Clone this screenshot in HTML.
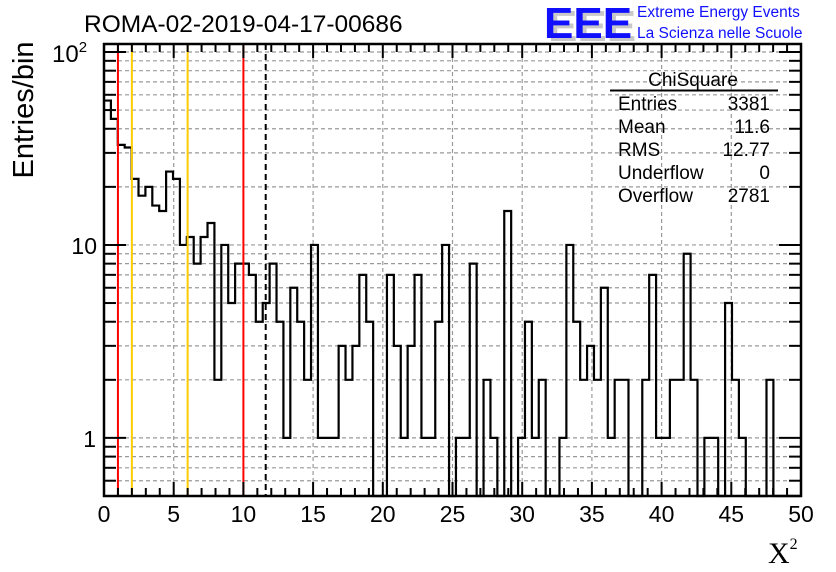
<!DOCTYPE html>
<html><head><meta charset="utf-8"><style>
html,body{margin:0;padding:0;background:#fff;width:836px;height:572px;overflow:hidden}
svg{display:block;font-family:"Liberation Sans",sans-serif}
</style></head><body>
<svg id="chart" width="836" height="572" viewBox="0 0 836 572">
<rect x="0" y="0" width="836" height="572" fill="#fff"/>
<g id="grid"></g>
<g id="marks"></g>
<g id="refs"></g>
<g id="axes"></g>
<text x="84" y="32" font-size="24.5" fill="#000">ROMA-02-2019-04-17-00686</text>
<text transform="translate(33,110) rotate(-90)" text-anchor="middle" font-size="29" fill="#000">Entries/bin</text>
<text x="768" y="563" font-size="30" font-family="Liberation Serif,serif" fill="#000">X<tspan font-size="16" dy="-14">2</tspan></text>
<g>
<text x="548" y="41" font-size="44" font-weight="bold" fill="#c8c8c8">EEE</text>
<text x="544" y="38" font-size="44" font-weight="bold" fill="#1010ff">EEE</text>
<text x="637" y="17" font-size="15.5" fill="#1010ff">Extreme Energy Events</text>
<text x="637" y="38" font-size="15.5" fill="#1010ff">La Scienza nelle Scuole</text>
</g>
<g font-size="19" fill="#000">
<text x="693" y="86" text-anchor="middle">ChiSquare</text>
<line x1="610" y1="90.5" x2="778" y2="90.5" stroke="#000" stroke-width="2"/>
<text x="618" y="110">Entries</text><text x="770" y="110" text-anchor="end">3381</text>
<text x="618" y="133">Mean</text><text x="770" y="133" text-anchor="end">11.6</text>
<text x="618" y="156">RMS</text><text x="770" y="156" text-anchor="end">12.77</text>
<text x="618" y="179">Underflow</text><text x="770" y="179" text-anchor="end">0</text>
<text x="618" y="202">Overflow</text><text x="770" y="202" text-anchor="end">2781</text>
</g>
</svg>
<script>
const binCounts = [56,45,33,32,22,18,20,16,15,24,22,10,11,8,11,13,
2,10,5,8,8,7,4,5,8,4,1,6,4,2,10,1,
1,1,3,2,3,7,4,0,0,7,3,1,3,7,1,1,4,10,0,1,1,8,0,2,1,0,15,0,1,4,1,2,0,0,1,
10,4,2,3,2,6,1,2,2,0,0,2,7,1,1,2,2,9,2,0,1,1,0,5,2,1,0,0,0,2,0,0,0,0];
const xTickValues = [0,5,10,15,20,25,30,35,40,45,50];
const xTickLabels = ["0","5","10","15","20","25","30","35","40","45","50"];
const refLineValues = [1,2,6,10];
const refLineColors = ["#ff0000","#ffcc00","#ffcc00","#ff0000"];
const meanValue = 11.6;
const xMin = 0, xMax = 50, yMin = 0.5, yMax = 110;

const L=104,R=801,T=44,B=496;
const NS='http://www.w3.org/2000/svg';
function sx(v){return L+(v-xMin)/(xMax-xMin)*(R-L);}
function sy(v){return B-(Math.log10(v)-Math.log10(yMin))/(Math.log10(yMax)-Math.log10(yMin))*(B-T);}
function mk(tag,attrs,parent){const e=document.createElementNS(NS,tag);for(const k in attrs)e.setAttribute(k,attrs[k]);parent.appendChild(e);return e;}
const grid=document.getElementById('grid'),marks=document.getElementById('marks'),refs=document.getElementById('refs'),axes=document.getElementById('axes');

xTickValues.forEach(v=>{if(v<=xMin||v>=xMax)return;
 const g=mk('line',{x1:sx(v),x2:sx(v),y1:T,y2:B,stroke:'#999','stroke-width':1.2,'stroke-dasharray':'4,3'},grid);
 
 });
for(let d=-1;d<=2;d++)for(let m=1;m<=9;m++){const v=m*Math.pow(10,d);if(v<=yMin||v>=yMax)continue;
 const g=mk('line',{x1:L,x2:R,y1:sy(v),y2:sy(v),stroke:'#999','stroke-width':1.2,'stroke-dasharray':'4,3'},grid);
 
 }

const n=binCounts.length,bw=(xMax-xMin)/n;
let d='';
for(let i=0;i<n;i++){const x0=sx(xMin+i*bw),x1=sx(xMin+(i+1)*bw);const y=binCounts[i]>0?sy(binCounts[i]):B;
 d+=(i===0?'M'+x0+','+y:'L'+x0+','+y)+'L'+x1+','+y;}
const hp=mk('path',{d:d,fill:'none',stroke:'#000','stroke-width':2.2},marks);



refLineValues.forEach((v,i)=>{const l=mk('line',{x1:sx(v),x2:sx(v),y1:T,y2:B,stroke:refLineColors[i],'stroke-width':2},refs);
 
 });
const ml=mk('line',{x1:sx(meanValue),x2:sx(meanValue),y1:T,y2:B,stroke:'#000','stroke-width':2,'stroke-dasharray':'6,4'},refs);



const fr=mk('rect',{x:L,y:T,width:R-L,height:B-T,fill:'none',stroke:'#000','stroke-width':2.5},axes);


for(let v=xMin;v<=xMax;v+=1){const big=v%5===0;const len=big?14:8;
 const t1=mk('line',{x1:sx(v),x2:sx(v),y1:B,y2:B-len,stroke:'#000','stroke-width':2},axes);
 
 
 const t2=mk('line',{x1:sx(v),x2:sx(v),y1:T,y2:T+len,stroke:'#000','stroke-width':2},axes);
 
 }
xTickValues.forEach((v,i)=>{const t=mk('text',{x:sx(v),y:522,'text-anchor':'middle','font-size':23,fill:'#000'},axes);t.textContent=xTickLabels[i];
 
 });
for(let dd=-1;dd<=2;dd++)for(let m=1;m<=9;m++){const v=m*Math.pow(10,dd);if(v<yMin||v>yMax)continue;const len=m===1?22:12;
 const t1=mk('line',{x1:L,x2:L+len,y1:sy(v),y2:sy(v),stroke:'#000','stroke-width':2},axes);
 
 
 const t2=mk('line',{x1:R,x2:R-len,y1:sy(v),y2:sy(v),stroke:'#000','stroke-width':2},axes);
 
 }
const yl1=mk('text',{x:96,y:sy(1)+9,'text-anchor':'end','font-size':23,fill:'#000'},axes);yl1.textContent='1';


const yl10=mk('text',{x:97,y:sy(10)+9,'text-anchor':'end','font-size':23,fill:'#000'},axes);yl10.textContent='10';


const yl100=mk('text',{x:52,y:sy(100)+10,'font-size':24,fill:'#000'},axes);yl100.innerHTML='10<tspan font-size="15" dy="-10">2</tspan>';


</script>
</body></html>
